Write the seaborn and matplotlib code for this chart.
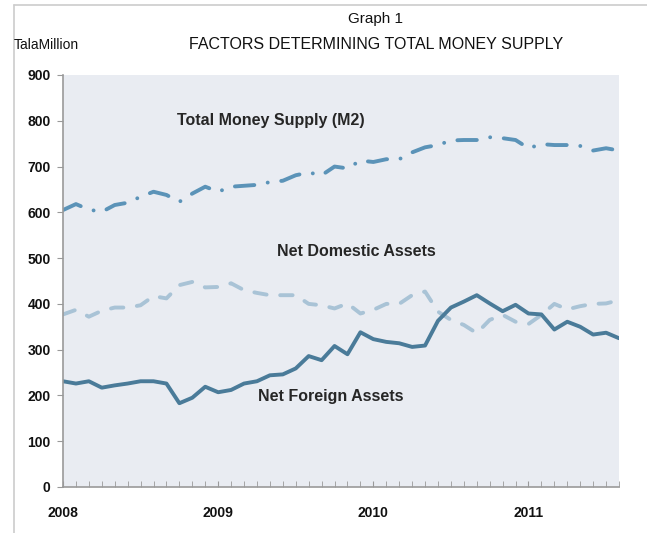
import numpy as np
import pandas as pd
import matplotlib.pyplot as plt
import seaborn as sns
from matplotlib.lines import Line2D

# monthly data, Jan 2008 .. Aug 2011 (Tala million)
months = list(range(44))
year_ticks = [0, 12, 24, 36]
year_labels = ["2008", "2009", "2010", "2011"]

m2 = [605, 618, 606, 601, 616, 621, 634, 645, 638, 623, 641, 656,
      645, 656, 658, 660, 666, 669, 681, 687, 681, 700, 696, 713,
      710, 716, 716, 731, 742, 747, 757, 758, 758, 764, 762, 758,
      740, 749, 747, 747, 745, 735, 740, 735]
nda = [377, 387, 372, 385, 392, 392, 397, 417, 412, 441, 448, 436,
       437, 445, 430, 424, 419, 419, 419, 400, 397, 390, 401, 379,
       387, 400, 400, 419, 427, 383, 365, 354, 336, 365, 376, 361,
       356, 376, 400, 388, 395, 400, 401, 408]
nfa = [231, 226, 231, 217, 222, 226, 231, 231, 226, 183, 195, 219,
       207, 212, 226, 231, 244, 246, 259, 286, 277, 308, 290, 338,
       323, 317, 314, 306, 309, 363, 392, 405, 419, 401, 384, 398,
       379, 377, 344, 361, 350, 333, 337, 325]

C_M2 = "#5b93b8"
C_NDA = "#a9c3d6"
C_NFA = "#4a7b99"
BG = "#e9ecf2"

sns.set_style("ticks", {"axes.facecolor": BG})
plt.rcParams["font.family"] = ["Liberation Sans", "DejaVu Sans"]

df = pd.DataFrame({"month": months, "m2": m2, "nda": nda, "nfa": nfa})

fig = plt.figure(figsize=(6.47, 5.33), dpi=100)
ax = fig.add_axes([63 / 647, 46 / 533, 556 / 647, 412 / 533])

sns.lineplot(data=df, x="month", y="m2", ax=ax, color=C_M2, lw=2.8,
             linestyle=(0, (5, 3.5, 0.01, 3.5)))
ax.lines[-1].set_dash_capstyle("round")
sns.lineplot(data=df, x="month", y="nda", ax=ax, color=C_NDA, lw=2.8,
             linestyle=(0, (3.2, 3.5)))
ax.lines[-1].set_dash_capstyle("round")
sns.lineplot(data=df, x="month", y="nfa", ax=ax, color=C_NFA, lw=2.8)

ax.set_xlim(0, 43)
ax.set_ylim(0, 900)
ax.set_yticks(range(0, 901, 100))
ax.set_xticks(year_ticks)
ax.set_xticklabels(year_labels)
ax.set_xticks(months, minor=True)
ax.set_xlabel("")
ax.set_ylabel("")

ax.tick_params(axis="y", direction="out", length=4, color="#999999",
               labelsize=10, pad=5)
ax.tick_params(axis="x", which="major", direction="in", length=4,
               color="#999999", labelsize=10, pad=14)
ax.tick_params(axis="x", which="minor", direction="in", length=4,
               color="#999999")
for lab in ax.get_xticklabels() + ax.get_yticklabels():
    lab.set_fontweight("bold")
    lab.set_color("#111111")
for s in ["top", "right"]:
    ax.spines[s].set_visible(False)
for s in ["left", "bottom"]:
    ax.spines[s].set_color("#9a9a9a")
    ax.spines[s].set_linewidth(1.2)

# series labels
ax.text(16.1, 800, "Total Money Supply (M2)", ha="center", va="center",
        fontsize=11.5, fontweight="bold")
ax.text(22.7, 515, "Net Domestic Assets", ha="center", va="center",
        fontsize=11.5, fontweight="bold")
ax.text(20.7, 197, "Net Foreign Assets", ha="center", va="center",
        fontsize=11.5, fontweight="bold")

# titles
fig.text(376 / 647, 1 - 19 / 533, "Graph 1", ha="center", va="center",
         fontsize=11, color="#111111")
fig.text(376 / 647, 1 - 45 / 533, "FACTORS DETERMINING TOTAL MONEY SUPPLY",
         ha="center", va="center", fontsize=11.5, color="#111111")
fig.text(14 / 647, 1 - 45 / 533, "TalaMillion", ha="left", va="center",
         fontsize=10, color="#111111")

# outer frame lines
fig.add_artist(Line2D([14 / 647, 1], [1 - 5 / 533, 1 - 5 / 533],
                      color="#cccccc", lw=1.2))
fig.add_artist(Line2D([14 / 647, 14 / 647], [0, 1 - 5 / 533],
                      color="#cccccc", lw=1.2))

fig.savefig("out.png", dpi=100)
plt.close(fig)
